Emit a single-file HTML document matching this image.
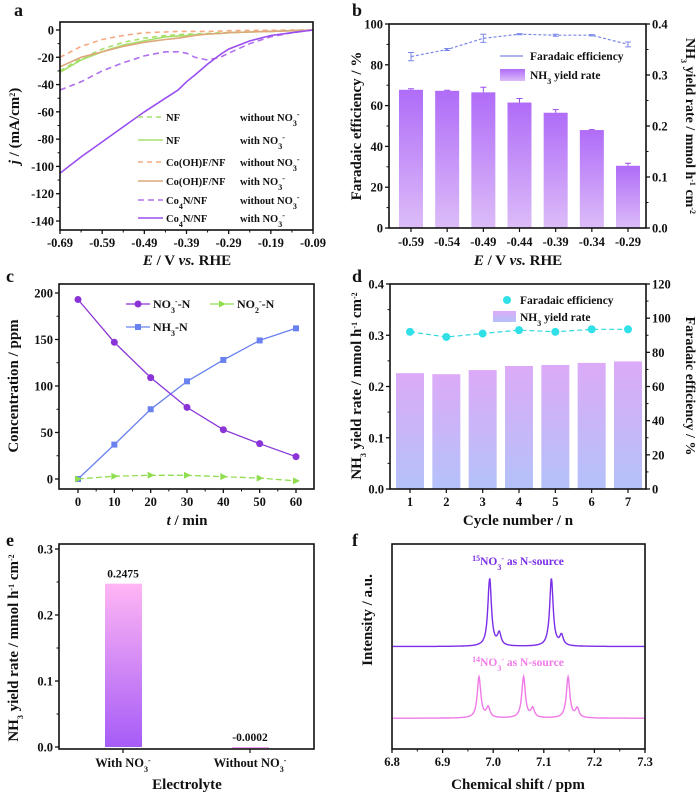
<!DOCTYPE html>
<html><head><meta charset="utf-8"><style>
html,body{margin:0;padding:0;background:#fff;}
svg{display:block;font-family:"Liberation Serif",serif;font-weight:bold;}
</style></head><body>
<svg id="fig" width="700" height="798" viewBox="0 0 700 798" xmlns="http://www.w3.org/2000/svg">
<defs>
<linearGradient id="gb" x1="0" y1="0" x2="0" y2="1"><stop offset="0" stop-color="#b06cf8"/><stop offset="1" stop-color="#dcbcf8"/></linearGradient>
<linearGradient id="gd" x1="0" y1="0" x2="0" y2="1"><stop offset="0" stop-color="#dcaaf8"/><stop offset="1" stop-color="#b4c2fa"/></linearGradient>
<linearGradient id="ge" x1="0" y1="0" x2="0" y2="1"><stop offset="0" stop-color="#ffb6f4"/><stop offset="1" stop-color="#a65cf6"/></linearGradient>
</defs>
</svg>
<script>
// ---------- DATA ----------
// panel a
const aE = [-0.69,-0.64,-0.59,-0.54,-0.49,-0.44,-0.41,-0.39,-0.37,-0.34,-0.31,-0.29,-0.24,-0.19,-0.14,-0.09];
const aCo3NWith    = [-105,-93,-82,-71,-60,-50,-44,-38,-33,-25,-18,-14,-8,-4,-2,0];
const aCo3NWithout = [-44,-38,-30,-24,-19,-16,-16,-17,-20,-22,-20,-17,-10,-5,-2,0];
const aCoFWith     = [-27,-20,-16,-12,-9,-7,-6,-5,-4,-3,-2.5,-2,-1.5,-1,-0.5,0];
const aCoFWithout  = [-20,-12,-7,-4,-2,-1.5,-1,-1,-1,-1,-0.8,-0.5,-0.3,-0.2,-0.1,0];
const aNFWith      = [-31,-22,-16,-11,-8,-5,-4.5,-4,-3.5,-3,-2.5,-2,-1.5,-1,-0.5,0];
const aNFWithout   = [-30,-21,-14,-9,-6,-4,-3.5,-3,-3,-2.5,-2,-2,-1.5,-1,-0.5,0];
// panel b
const bCats = ["-0.59","-0.54","-0.49","-0.44","-0.39","-0.34","-0.29"];
const bYield = [0.271,0.269,0.266,0.246,0.226,0.192,0.122];
const bYieldErr = [0.002,0.001,0.010,0.008,0.006,0.001,0.005];
const bFE = [84,87.5,93,95,94.5,94.5,90];
const bFEErr = [2,0.5,2,0.3,0.5,0.3,1.2];
// panel c
const cT = [0,10,20,30,40,50,60];
const cNO3 = [193,147,109,77,53,38,24];
const cNH3 = [0,37,75,105,128,149,162];
const cNO2 = [0,3,4,4,2.5,1,-2];
// panel d
const dCycles = ["1","2","3","4","5","6","7"];
const dYield = [0.226,0.224,0.232,0.240,0.242,0.246,0.249];
const dFE = [92,89,91,93,92,93.5,93.5];
// panel e
const eCats = ["With","Without"];
const eVals = [0.2475,-0.0002];
const eLabels = ["0.2475","-0.0002"];
// panel f (peak lists: position ppm, height a.u.)
const f15Pos = [6.993,7.012,7.115,7.135];
const f15H = [33,6,33,5];
const f14Pos = [6.972,6.990,7.060,7.078,7.148,7.166];
const f14H = [20,5,20,4.5,20,4.5];
const fWidth = 0.0042;

// ---------- HELPERS ----------
const NS="http://www.w3.org/2000/svg";
const svg=document.getElementById('fig');
function mk(tag,attrs,parent){const e=document.createElementNS(NS,tag);for(const k in attrs)e.setAttribute(k,attrs[k]);(parent||svg).appendChild(e);return e;}
function nm(e,name){
  
  
  return e;}
function lin(d0,d1,r0,r1){return v=>r0+(v-d0)*(r1-r0)/(d1-d0);}
function txt(x,y,s,o){o=o||{};const e=mk('text',{x:x,y:y,'font-size':o.size||11,'text-anchor':o.anchor||'middle',fill:o.fill||'#111'});
  if(o.rot)e.setAttribute('transform','rotate('+o.rot+' '+x+' '+y+')');e.innerHTML=s;return e;}
const SUB=s=>'<tspan baseline-shift="sub" font-size="8">'+s+'</tspan>';
const SUP=s=>'<tspan baseline-shift="super" font-size="8">'+s+'</tspan>';
const TK=12.5, TT=15;
function frame(x0,y0,x1,y1,name){return nm(mk('rect',{x:x0,y:y0,width:x1-x0,height:y1-y0,fill:'none',stroke:'#111','stroke-width':1.6}),name);}
function yTicks(x,sc,ticks,labels,side,minor,nameBase){
  const d=side==='left'?-1:1;
  ticks.forEach((v,i)=>{nm(mk('line',{x1:x,x2:x+d*4,y1:sc(v),y2:sc(v),stroke:'#111','stroke-width':1.3}),nameBase+'-tick');
    nm(txt(x+d*6,sc(v)+4.5,labels[i],{anchor:side==='left'?'end':'start',size:TK}),nameBase+'-label');});
  (minor||[]).forEach(v=>nm(mk('line',{x1:x,x2:x+d*2.5,y1:sc(v),y2:sc(v),stroke:'#111','stroke-width':1}),nameBase+'-minor-tick'));
}
function xTicks(y,sc,ticks,labels,minor,nameBase){
  ticks.forEach((v,i)=>{nm(mk('line',{x1:sc(v),x2:sc(v),y1:y,y2:y+4,stroke:'#111','stroke-width':1.3}),nameBase+'-tick');
    nm(txt(sc(v),y+17,labels[i],{size:TK}),nameBase+'-label');});
  (minor||[]).forEach(v=>nm(mk('line',{x1:sc(v),x2:sc(v),y1:y,y2:y+2.5,stroke:'#111','stroke-width':1}),nameBase+'-minor-tick'));
}
function poly(xs,ys,sx,sy,attrs,name){const p=xs.map((x,i)=>sx(x).toFixed(1)+','+sy(ys[i]).toFixed(1)).join(' ');
  return nm(mk('polyline',Object.assign({points:p,fill:'none'},attrs)),name);}
function range(a,b,s){const r=[];for(let v=a;v<=b+1e-9;v+=s)r.push(+v.toFixed(4));return r;}

// ---------- PANEL A ----------
(function(){
  const x=lin(-0.69,-0.09,60,313), y=lin(0,-140,30,221);
  nm(txt(14,16,'a',{size:18,anchor:'start'}),'panel-label-a');
  const series=[[aNFWithout,'#a6e06a','5,4','nf-without'],[aNFWith,'#a6e06a','','nf-with'],[aCoFWithout,'#f4aa80','5,4','cof-without'],[aCoFWith,'#dca87c','','cof-with'],[aCo3NWithout,'#b070f0','6,4','co3n-without'],[aCo3NWith,'#9a4ef0','','co3n-with']];
  series.forEach(s=>poly(aE,s[0],x,y,{stroke:s[1],'stroke-width':1.6,'stroke-dasharray':s[2]},'curve-'+s[3]));
  frame(60,22,313,230,'plot-frame-a');
  const yt=range(-140,0,20);
  yTicks(60,y,yt,yt.map(String),'left',range(-140,0,10),'y-axis-a');
  const xt=range(-0.69,-0.09,0.1);
  xTicks(230,x,xt,xt.map(v=>v.toFixed(2)),range(-0.64,-0.14,0.1),'x-axis-a');
  nm(txt(19,126,'<tspan font-style="italic">j</tspan> / (mA/cm'+SUP('2')+')',{size:TT,rot:-90}),'y-axis-title-a');
  nm(txt(187,265,'<tspan font-style="italic">E</tspan> / V <tspan font-style="italic">vs.</tspan> RHE',{size:TT}),'x-axis-title-a');
  const leg=[['NF','without NO'+SUB('3')+SUP('-')],['NF','with NO'+SUB('3')+SUP('-')],['Co(OH)F/NF','without NO'+SUB('3')+SUP('-')],['Co(OH)F/NF','with NO'+SUB('3')+SUP('-')],['Co'+SUB('4')+'N/NF','without NO'+SUB('3')+SUP('-')],['Co'+SUB('4')+'N/NF','with NO'+SUB('3')+SUP('-')]];
  const ly=[117,140,162,181,200,218];
  leg.forEach((l,i)=>{const s=series[i];
    nm(mk('line',{x1:138,x2:163,y1:ly[i],y2:ly[i],stroke:s[1],'stroke-width':1.6,'stroke-dasharray':s[2]}),'legend-swatch-a');
    nm(txt(166,ly[i]+4,l[0],{size:10.5,anchor:'start'}),'legend-entry-a');
    nm(txt(240,ly[i]+4,l[1],{size:10.5,anchor:'start'}),'legend-condition-a');});
})();

// ---------- PANEL B ----------
(function(){
  const x0=411,step=(628-411)/6, bx=i=>x0+i*step;
  const yl=lin(0,100,228,24), yr=lin(0,0.4,228,24);
  nm(txt(352,16,'b',{size:18,anchor:'start'}),'panel-label-b');
  bYield.forEach((v,i)=>{nm(mk('rect',{x:bx(i)-12,y:yr(v),width:24,height:yr(0)-yr(v),fill:'url(#gb)'}),'bar-'+bCats[i]);
    nm(mk('path',{d:`M${bx(i)} ${yr(v+bYieldErr[i])}V${yr(v)}M${bx(i)-3} ${yr(v+bYieldErr[i])}h6`,stroke:'#9a50e8','stroke-width':1}),'error-bar-yield');});
  poly(bCats.map((c,i)=>i),bFE,bx,yl,{stroke:'#7b88e8','stroke-width':1.2,'stroke-dasharray':'3,2'},'fe-line-b');
  bFE.forEach((v,i)=>nm(mk('path',{d:`M${bx(i)} ${yl(v+bFEErr[i])}V${yl(v-bFEErr[i])}M${bx(i)-3} ${yl(v+bFEErr[i])}h6M${bx(i)-3} ${yl(v-bFEErr[i])}h6`,stroke:'#7b88e8','stroke-width':1,fill:'none'}),'error-bar-fe'));
  frame(389,24,646,228,'plot-frame-b');
  const lt=range(0,100,20);
  yTicks(389,yl,lt,lt.map(String),'left',range(10,90,20),'y-axis-left-b');
  const rt=range(0,0.4,0.1);
  yTicks(646,yr,rt,rt.map(v=>v.toFixed(1)),'right',range(0.05,0.35,0.1),'y-axis-right-b');
  bCats.forEach((c,i)=>{nm(mk('line',{x1:bx(i),x2:bx(i),y1:228,y2:232,stroke:'#111','stroke-width':1.2}),'x-tick-b');nm(txt(bx(i),246,c,{size:TK}),'x-tick-label-b');});
  nm(txt(361,126,'Faradaic efficiency / %',{size:TT,rot:-90}),'y-axis-title-left-b');
  nm(txt(686,126,'NH'+SUB('3')+' yield rate / mmol h'+SUP('-1')+' cm'+SUP('-2'),{size:14,rot:90}),'y-axis-title-right-b');
  nm(txt(518,265,'<tspan font-style="italic">E</tspan> / V <tspan font-style="italic">vs.</tspan> RHE',{size:TT}),'x-axis-title-b');
  nm(mk('line',{x1:500,x2:523,y1:56,y2:56,stroke:'#7b88e8','stroke-width':1.2}),'legend-swatch-fe-b');
  nm(txt(530,60,'Faradaic efficiency',{size:11.5,anchor:'start'}),'legend-entry-fe-b');
  nm(mk('rect',{x:500,y:69,width:25,height:12,fill:'url(#gb)'}),'legend-swatch-yield-b');
  nm(txt(530,79,'NH'+SUB('3')+' yield rate',{size:11.5,anchor:'start'}),'legend-entry-yield-b');
})();

// ---------- PANEL C ----------
(function(){
  const x=lin(0,60,78,296), y=lin(0,200,479,293);
  nm(txt(6,282,'c',{size:18,anchor:'start'}),'panel-label-c');
  poly(cT,cNO2,x,y,{stroke:'#90de50','stroke-width':1.3,'stroke-dasharray':'6,3'},'line-no2');
  poly(cT,cNH3,x,y,{stroke:'#6a82f0','stroke-width':1.3},'line-nh3');
  poly(cT,cNO3,x,y,{stroke:'#8a34d8','stroke-width':1.3},'line-no3');
  cT.forEach((t,i)=>{
    nm(mk('circle',{cx:x(t),cy:y(cNO3[i]),r:3.5,fill:'#8a34d8'}),'point-no3');
    nm(mk('rect',{x:x(t)-3,y:y(cNH3[i])-3,width:6,height:6,fill:'#6a82f0'}),'point-nh3');
    nm(mk('path',{d:`M${x(t)-3} ${y(cNO2[i])-3.5}L${x(t)+4} ${y(cNO2[i])}L${x(t)-3} ${y(cNO2[i])+3.5}Z`,fill:'#90de50'}),'point-no2');});
  frame(59,284,314,489,'plot-frame-c');
  const yt=range(0,200,50);
  yTicks(59,y,yt,yt.map(String),'left',range(25,175,50),'y-axis-c');
  xTicks(489,x,cT,cT.map(String),range(5,55,10),'x-axis-c');
  nm(txt(18,386,'Concentration / ppm',{size:TT,rot:-90}),'y-axis-title-c');
  nm(txt(187,525,'<tspan font-style="italic">t</tspan> / min',{size:TT}),'x-axis-title-c');
  const L=[[126,304,'#8a34d8','NO'+SUB('3')+SUP('-')+'-N','c'],[210,304,'#90de50','NO'+SUB('2')+SUP('-')+'-N','t'],[126,327,'#6a82f0','NH'+SUB('3')+'-N','s']];
  L.forEach(l=>{nm(mk('line',{x1:l[0],x2:l[0]+24,y1:l[1],y2:l[1],stroke:l[2],'stroke-width':1.3}),'legend-swatch-c');
    nm(l[4]==='c'?mk('circle',{cx:l[0]+12,cy:l[1],r:3.5,fill:l[2]}):l[4]==='s'?mk('rect',{x:l[0]+9,y:l[1]-3,width:6,height:6,fill:l[2]}):mk('path',{d:`M${l[0]+9} ${l[1]-3.5}L${l[0]+16} ${l[1]}L${l[0]+9} ${l[1]+3.5}Z`,fill:l[2]}),'legend-marker-c');
    nm(txt(l[0]+27,l[1]+4,l[3],{size:12,anchor:'start'}),'legend-entry-c');});
})();

// ---------- PANEL D ----------
(function(){
  const x0=410,step=(628-410)/6,bx=i=>x0+i*step;
  const yl=lin(0,0.4,489,284), yr=lin(0,120,489,284);
  nm(txt(352,282,'d',{size:18,anchor:'start'}),'panel-label-d');
  dYield.forEach((v,i)=>nm(mk('rect',{x:bx(i)-14,y:yl(v),width:28,height:yl(0)-yl(v),fill:'url(#gd)'}),'bar-cycle-'+dCycles[i]));
  poly(dCycles.map((c,i)=>i),dFE,bx,yr,{stroke:'#2ed8e0','stroke-width':1.2,'stroke-dasharray':'5,3'},'fe-line-d');
  dFE.forEach((v,i)=>nm(mk('circle',{cx:bx(i),cy:yr(v),r:4,fill:'#30e0e6'}),'fe-point-d'));
  frame(390,284,646,489,'plot-frame-d');
  const lt=range(0,0.4,0.1);
  yTicks(390,yl,lt,lt.map(v=>v.toFixed(1)),'left',range(0.05,0.35,0.1),'y-axis-left-d');
  const rt=range(0,120,20);
  yTicks(646,yr,rt,rt.map(String),'right',range(10,110,20),'y-axis-right-d');
  dCycles.forEach((c,i)=>{nm(mk('line',{x1:bx(i),x2:bx(i),y1:489,y2:493,stroke:'#111','stroke-width':1.2}),'x-tick-d');nm(txt(bx(i),506,c,{size:TK}),'x-tick-label-d');});
  nm(txt(361,386,'NH'+SUB('3')+' yield rate / mmol h'+SUP('-1')+' cm'+SUP('-2'),{size:TT,rot:-90}),'y-axis-title-left-d');
  nm(txt(686,386,'Faradaic efficiency / %',{size:14,rot:90}),'y-axis-title-right-d');
  nm(txt(518,525,'Cycle number / n',{size:TT}),'x-axis-title-d');
  nm(mk('circle',{cx:507,cy:300,r:4,fill:'#30e0e6'}),'legend-marker-fe-d');
  nm(txt(520,304,'Faradaic efficiency',{size:11.5,anchor:'start'}),'legend-entry-fe-d');
  nm(mk('rect',{x:493,y:311,width:23,height:11,fill:'url(#gd)'}),'legend-swatch-yield-d');
  nm(txt(520,321,'NH'+SUB('3')+' yield rate',{size:11.5,anchor:'start'}),'legend-entry-yield-d');
})();

// ---------- PANEL E ----------
(function(){
  const y=lin(0,0.3,747,549), bx=[123,250];
  nm(txt(6,546,'e',{size:18,anchor:'start'}),'panel-label-e');
  eVals.forEach((v,i)=>{const h=Math.max(Math.abs(y(v)-y(0)),1.2);
    nm(mk('rect',{x:bx[i]-18,y:Math.min(y(v),y(0)),width:37,height:h,fill:i===0?'url(#ge)':'#f0a0f0'}),'bar-'+eCats[i].toLowerCase());
    nm(txt(bx[i],(i===0?y(v):y(0))-6,eLabels[i],{size:11.5}),'value-label-'+eCats[i].toLowerCase());});
  frame(59,544,314,749,'plot-frame-e');
  const yt=range(0,0.3,0.1);
  yTicks(59,y,yt,yt.map(v=>v.toFixed(1)),'left',range(0.05,0.25,0.1),'y-axis-e');
  bx.forEach((xx,i)=>nm(mk('line',{x1:xx,x2:xx,y1:749,y2:753,stroke:'#111','stroke-width':1.2}),'x-tick-e'));
  nm(txt(123,767,'With NO'+SUB('3')+SUP('-'),{size:TK}),'x-tick-label-with');
  nm(txt(250,767,'Without NO'+SUB('3')+SUP('-'),{size:TK}),'x-tick-label-without');
  nm(txt(18,648,'NH'+SUB('3')+' yield rate / mmol h'+SUP('-1')+' cm'+SUP('-2'),{size:TT,rot:-90}),'y-axis-title-e');
  nm(txt(187,789,'Electrolyte',{size:TT}),'x-axis-title-e');
})();

// ---------- PANEL F ----------
(function(){
  const x=lin(6.8,7.3,392,645), y=lin(0,100,749,544);
  nm(txt(352,546,'f',{size:18,anchor:'start'}),'panel-label-f');
  function spec(pos,h,base){const xs=[],ys=[];for(let v=6.8;v<=7.3001;v+=0.0008){let s=0;pos.forEach((c,i)=>{s+=h[i]/(1+Math.pow((v-c)/fWidth,2));});xs.push(v);ys.push(base+s);}return [xs,ys];}
  const s15=spec(f15Pos,f15H,50), s14=spec(f14Pos,f14H,15);
  poly(s15[0],s15[1],x,y,{stroke:'#7a2ee8','stroke-width':1.4},'spectrum-15n');
  poly(s14[0],s14[1],x,y,{stroke:'#f07ae8','stroke-width':1.4},'spectrum-14n');
  frame(392,544,645,749,'plot-frame-f');
  const xt=range(6.8,7.3,0.1);
  xTicks(749,x,xt,xt.map(v=>v.toFixed(1)),range(6.85,7.25,0.1),'x-axis-f');
  nm(txt(372,620,'Intensity / a.u.',{size:TT,rot:-90}),'y-axis-title-f');
  nm(txt(518,789,'Chemical shift / ppm',{size:TT}),'x-axis-title-f');
  nm(txt(518,565,SUP('15')+'NO'+SUB('3')+SUP('-')+' as N-source',{size:11.5,fill:'#7a2ee8'}),'label-15n');
  nm(txt(518,666,SUP('14')+'NO'+SUB('3')+SUP('-')+' as N-source',{size:11.5,fill:'#f07ae8'}),'label-14n');
})();
</script>
</body></html>
